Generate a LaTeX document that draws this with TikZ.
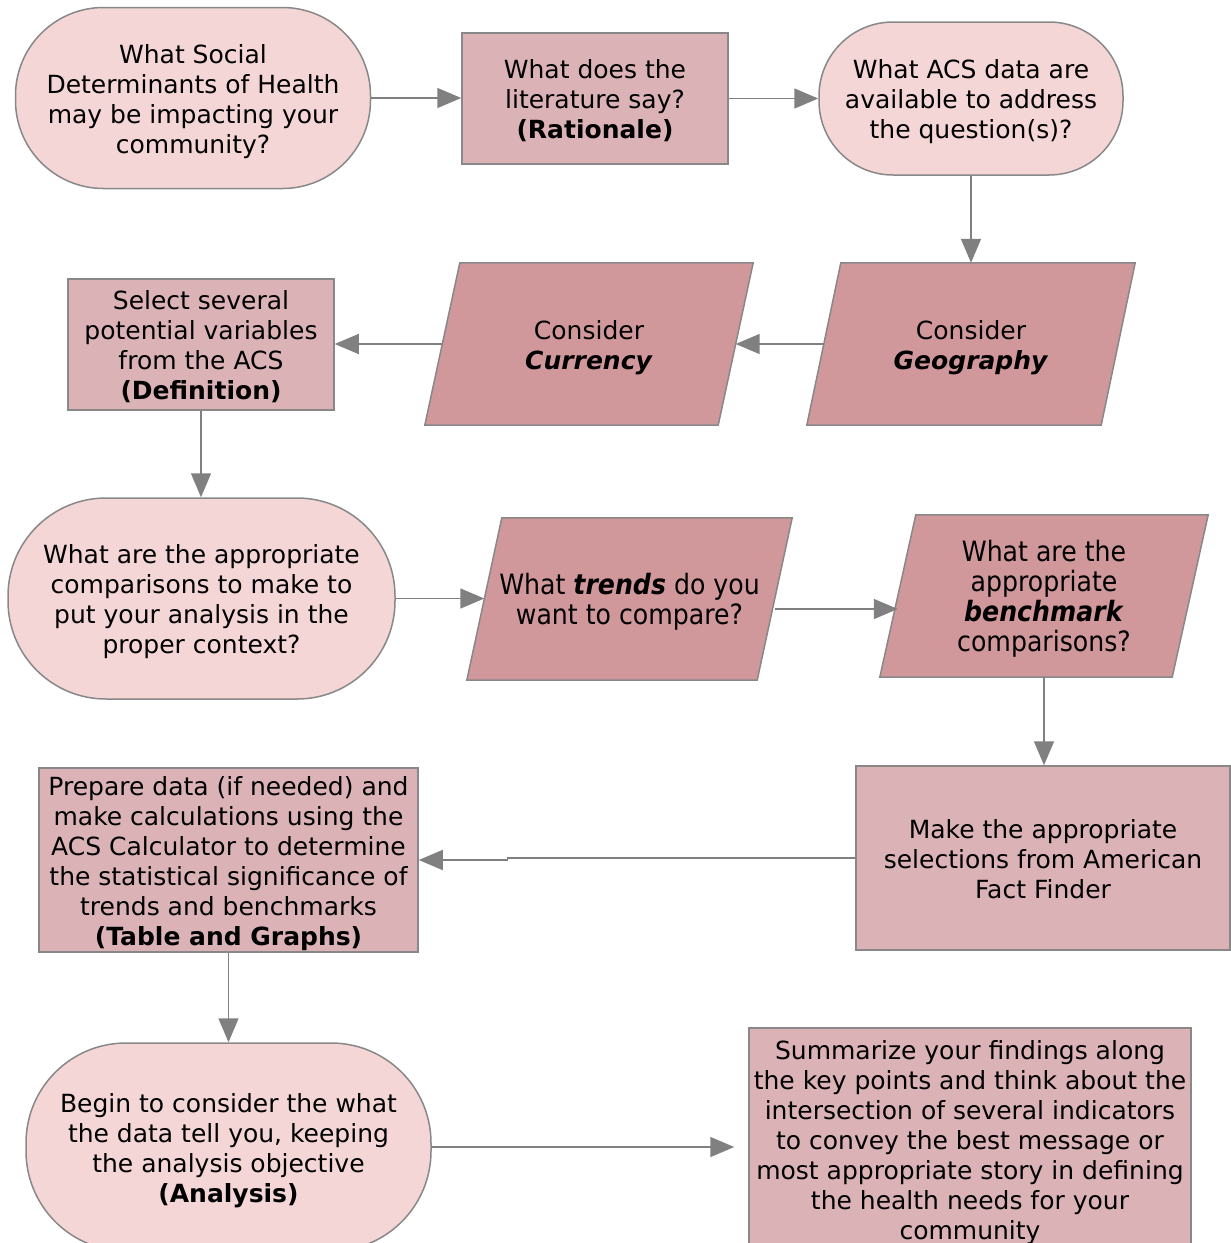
\documentclass[tikz,border=0pt]{standalone}
\usepackage{fontspec}
\setmainfont{DejaVu Sans}
\newfontfamily\condfont{DejaVu Sans}[FakeStretch=0.9]
\usetikzlibrary{arrows.meta,backgrounds,calc}
\definecolor{termfill}{HTML}{F4D6D6}
\definecolor{rectfill}{HTML}{DBB3B7}
\definecolor{parafill}{HTML}{D1989B}
\definecolor{edgec}{HTML}{888888}
\definecolor{arrowc}{HTML}{808080}
\newcommand\mytop{\rule{0pt}{27pt}}
\newcommand\mybot{\rule[-6.5pt]{0pt}{6.5pt}}
\begin{document}
\begin{tikzpicture}[x=1pt,y=-1pt,
  base/.style={align=center, font=\fontsize{25}{30}\selectfont, inner sep=0pt, text=black},
  term/.style={base, draw=edgec, line width=1.5pt, fill=termfill},
  box/.style={base, draw=edgec, line width=1.5pt, fill=rectfill},
  para/.style={base},
  condtext/.style={font=\condfont\fontsize{28}{30}\selectfont},
  pshape/.style={draw=edgec, line width=1.5pt, fill=parafill},
  arr/.style={draw=arrowc, line width=1.5pt, -{Triangle[length=24pt,width=20pt]}}]
\useasboundingbox (0,0) rectangle (1231,1243);
\clip (0,0) rectangle (1231,1243);

\node[term, minimum width=355, minimum height=181, rounded corners=88] (t1) at (193,98)
  {\mytop What Social\\Determinants of Health\\may be impacting your\\community?\mybot};
\node[box, minimum width=266, minimum height=131] (r1) at (595,98.5)
  {\mytop What does the\\literature say?\\\textbf{(Rationale)}\mybot};
\node[term, minimum width=304, minimum height=153, rounded corners=74] (t2) at (971,98.5)
  {\mytop What ACS data are\\available to address\\the question(s)?\mybot};
\node[para, minimum width=294, minimum height=162] (geo) at (971,344)
  {\mytop Consider\\\textbf{\textit{Geography}}\mybot};
\node[para, minimum width=293, minimum height=162] (cur) at (589,344)
  {\mytop Consider\\\textbf{\textit{Currency}}\mybot};
\node[box, minimum width=266, minimum height=131] (def) at (201,344.5)
  {\mytop Select several\\potential variables\\from the ACS\\\textbf{(Definition)}\mybot};
\node[term, minimum width=387, minimum height=201, rounded corners=98] (t3) at (201.5,598.5)
  {\mytop What are the appropriate\\comparisons to make to\\put your analysis in the\\proper context?\mybot};
\node[para, condtext, minimum width=290, minimum height=162] (tre) at (629.5,599)
  {\mytop What \textbf{\textit{trends}} do you\\want to compare?\mybot};
\node[para, condtext, minimum width=292, minimum height=162] (ben) at (1044,596)
  {\mytop What are the\\appropriate\\\textbf{\textit{benchmark}}\\comparisons?\mybot};
\node[box, minimum width=374, minimum height=184] (mk) at (1043,858)
  {\mytop Make the appropriate\\selections from American\\Fact Finder\mybot};
\node[box, minimum width=379, minimum height=184] (prep) at (228.5,860)
  {\mytop Prepare data (if needed) and\\make calculations using the\\ACS Calculator to determine\\the statistical significance of\\trends and benchmarks\\\textbf{(Table and Graphs)}\mybot};
\node[term, minimum width=405, minimum height=208, rounded corners=100] (t4) at (228.5,1147)
  {\mytop Begin to consider the what\\the data tell you, keeping\\the analysis objective\\\textbf{(Analysis)}\mybot};
\node[box, minimum width=442, minimum height=222] (sum) at (970,1139)
  {\mytop Summarize your findings along\\the key points and think about the\\intersection of several indicators\\to convey the best message or\\most appropriate story in defining\\the health needs for your\\community\mybot};

\begin{scope}[on background layer]
\foreach \n/\d in {geo/17,cur/17.5,tre/17.5,ben/18}{
  \draw[pshape] ([xshift=\d pt]\n.north west) -- ([xshift=\d pt]\n.north east)
    -- ([xshift=-\d pt]\n.south east) -- ([xshift=-\d pt]\n.south west) -- cycle;}
\end{scope}

\draw[arr] (t1.east) -- (t1.east -| r1.west);
\draw[arr] (r1.east) -- (r1.east -| t2.west);
\draw[arr] (t2.south) -- (geo.north);
\draw[arr] (geo.west) -- (cur.east);
\draw[arr] (cur.west) -- (cur.west -| def.east);
\draw[arr] (def.south) -- (def.south |- t3.north);
\draw[arr] (t3.east) -- (t3.east -| tre.west);
\draw[arr] ([yshift=-10pt]tre.east) -- ([yshift=-10pt]tre.east -| ben.west);
\draw[arr] (ben.south) -- (ben.south |- mk.north);
\draw[arr] (mk.west) -- ++(-348,0) |- (prep.east);
\draw[arr] (prep.south) -- (prep.south |- t4.north);
\draw[arr] (t4.east) -- ([xshift=-14pt]t4.east -| sum.west);
\end{tikzpicture}
\end{document}
